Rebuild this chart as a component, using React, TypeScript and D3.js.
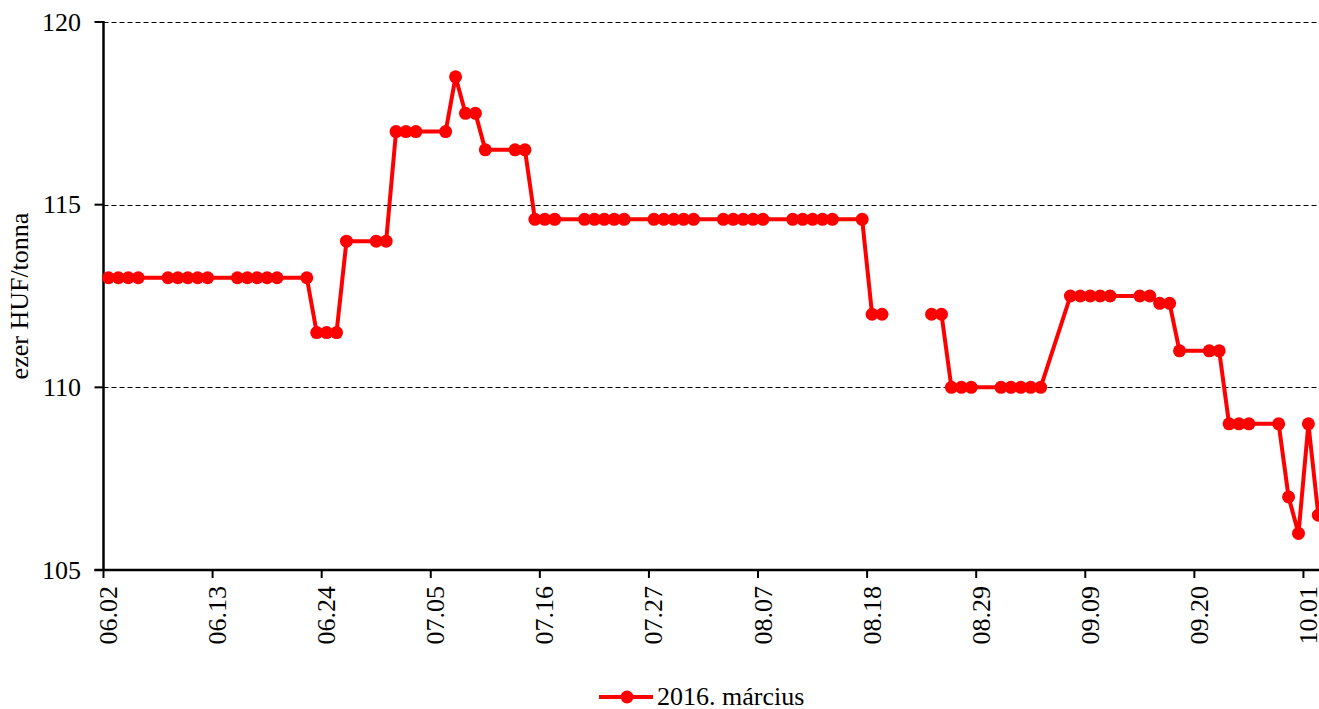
import React from "react";
import * as d3 from "d3";

const YEAR = "2015";
const dates: string[] = [
  "06.02","06.03","06.04","06.05","06.08","06.09","06.10","06.11","06.12","06.15","06.16","06.17","06.18","06.19","06.22","06.23","06.24","06.25","06.26","06.29","06.30",
  "07.01","07.02","07.03","07.06","07.07","07.08","07.09","07.10","07.13","07.14","07.15","07.16","07.17","07.20","07.21","07.22","07.23","07.24","07.27","07.28","07.29","07.30","07.31",
  "08.03","08.04","08.05","08.06","08.07","08.10","08.11","08.12","08.13","08.14","08.17","08.18","08.19","08.20","08.21","08.24","08.25","08.26","08.27","08.28","08.31",
  "09.01","09.02","09.03","09.04","09.07","09.08","09.09","09.10","09.11","09.14","09.15","09.16","09.17","09.18","09.21","09.22","09.23","09.24","09.25","09.28","09.29","09.30",
  "10.01","10.02",
];
const values: (number | null)[] = [
  113,113,113,113,113,113,113,113,113,113,113,113,113,113,113,111.5,111.5,111.5,114,114,114,
  117,117,117,117,118.5,117.5,117.5,116.5,116.5,116.5,114.6,114.6,114.6,114.6,114.6,114.6,114.6,114.6,114.6,114.6,114.6,114.6,114.6,
  114.6,114.6,114.6,114.6,114.6,114.6,114.6,114.6,114.6,114.6,114.6,112,112,null,null,112,112,110,110,110,110,
  110,110,110,110,112.5,112.5,112.5,112.5,112.5,112.5,112.5,112.3,112.3,111,111,111,109,109,109,109,107,106,
  109,106.5,
];
const xTickLabels = ["06.02","06.13","06.24","07.05","07.16","07.27","08.07","08.18","08.29","09.09","09.20","10.01"];
const yTicks = [105, 110, 115, 120];
const seriesName = "2016. március";
const yAxisTitle = "ezer HUF/tonna";
const xDomainLabels = ["06.02", "10.03"];

const W = 1319, H = 709;
const left = 103.5, top = 22, bottom = 570;
const dayPx = 9.917;
const FONT = "'Liberation Serif', 'Times New Roman', serif";
const RED = "#ff0000";

const parse = (s: string) => d3.utcParse("%Y.%m.%d")(`${YEAR}.${s}`) as Date;

export default function App() {
  const d0 = parse(xDomainLabels[0]);
  const d1 = parse(xDomainLabels[1]);
  const nDays = d3.utcDay.count(d0, d1);
  const x = d3.scaleUtc().domain([d0, d1]).range([left, left + nDays * dayPx]);
  const y = d3.scaleLinear().domain([105, 120]).range([bottom, top]);
  const half = dayPx / 2;

  const pts = dates.map((d, i) => ({ date: parse(d), v: values[i] }));
  const line = d3
    .line<{ date: Date; v: number | null }>()
    .defined((p) => p.v != null)
    .x((p) => x(p.date) + half)
    .y((p) => y(p.v as number));

  return (
    <svg
      width={W}
      height={H}
      style={{ position: "absolute", left: 0, top: 0, background: "#fff" }}
      fontFamily={FONT}
    >
      <rect x={0} y={0} width={W} height={H} fill="#fff" />
      {/* gridlines */}
      {yTicks.filter((t) => t !== 105).map((t) => (
        <line key={t} x1={left} x2={W} y1={Math.round(y(t)) + 0.5} y2={Math.round(y(t)) + 0.5} stroke="#000" strokeWidth={1} strokeDasharray="5,3" />
      ))}
      {/* y axis */}
      <line x1={left} x2={left} y1={top - 1} y2={bottom + 1} stroke="#000" strokeWidth={2.5} />
      {yTicks.map((t) => (
        <g key={t}>
          <line x1={left - 9} x2={left} y1={y(t)} y2={y(t)} stroke="#000" strokeWidth={2} />
          <text x={81} y={y(t)} textAnchor="end" dominantBaseline="central" fontSize={26} fill="#000">
            {t}
          </text>
        </g>
      ))}
      <text transform={`translate(28, 296) rotate(-90)`} textAnchor="middle" fontSize={26} fill="#000">
        {yAxisTitle}
      </text>
      {/* x axis */}
      <line x1={left - 9} x2={W} y1={bottom} y2={bottom} stroke="#000" strokeWidth={2.5} />
      {xTickLabels.map((lab) => {
        const tx = x(parse(lab));
        return (
          <g key={lab}>
            <line x1={tx} x2={tx} y1={bottom} y2={bottom + 8} stroke="#000" strokeWidth={2} />
            <text
              transform={`translate(${tx + 13.5}, ${bottom + 16}) rotate(-90)`}
              textAnchor="end"
              fontSize={26}
              fill="#000"
            >
              {lab}
            </text>
          </g>
        );
      })}
      {/* series */}
      <path d={line(pts) ?? ""} fill="none" stroke={RED} strokeWidth={4} strokeLinejoin="round" />
      {pts.filter((p) => p.v != null).map((p, i) => (
        <circle key={i} cx={x(p.date) + half} cy={y(p.v as number)} r={6.5} fill={RED} />
      ))}
      {/* legend */}
      <line x1={599} x2={653} y1={697} y2={697} stroke={RED} strokeWidth={4} />
      <circle cx={627} cy={697} r={6.5} fill={RED} />
      <text x={657} y={705} fontSize={26} fill="#000">
        {seriesName}
      </text>
    </svg>
  );
}
